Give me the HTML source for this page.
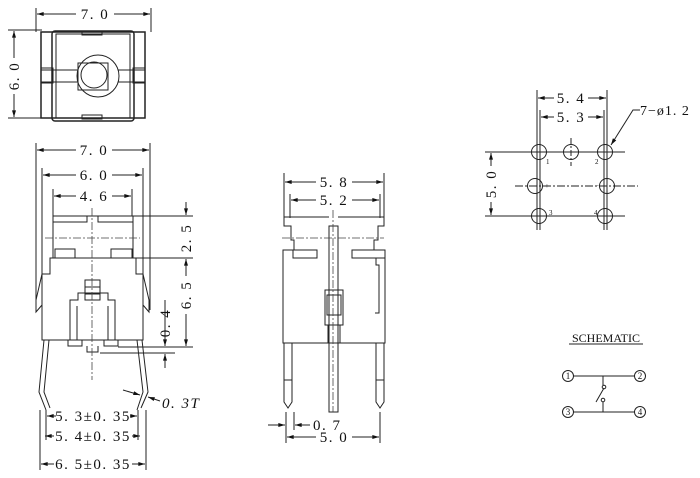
<!DOCTYPE html>
<html><head><meta charset="utf-8"><style>
html,body{margin:0;padding:0;background:#fff;width:700px;height:478px;overflow:hidden}
svg{display:block}
text{font-family:"Liberation Serif",serif;font-size:15px;fill:#111;letter-spacing:1.5px}
.pn text{font-size:7px;letter-spacing:0}
.sc text{font-size:9px;letter-spacing:0}
text.sh{font-size:12px;letter-spacing:0}
</style></head><body>
<svg width="700" height="478" viewBox="0 0 700 478" xmlns="http://www.w3.org/2000/svg">
<defs>
<marker id="a" viewBox="0 0 10 6" refX="10" refY="3" markerWidth="8" markerHeight="4" orient="auto-start-reverse"><path d="M0,0L10,3L0,6z" fill="#111"/></marker>
</defs>
<g stroke="#222" stroke-width="1" fill="none">
<!-- TOP VIEW -->
<line x1="36" y1="8" x2="36" y2="32"/><line x1="151" y1="8" x2="151" y2="32"/>
<line x1="37" y1="14" x2="76" y2="14" marker-start="url(#a)"/><line x1="114" y1="14" x2="150" y2="14" marker-end="url(#a)"/>
<line x1="8" y1="30" x2="42" y2="30"/><line x1="8" y1="118" x2="42" y2="118"/>
<line x1="14" y1="31" x2="14" y2="58" marker-start="url(#a)"/><line x1="14" y1="94" x2="14" y2="117" marker-end="url(#a)"/>
<rect x="41" y="32" width="104" height="86" stroke-width="1.5"/>
<rect x="52" y="31" width="82" height="90" rx="3" stroke-width="1.5"/>
<rect x="56" y="34" width="74" height="84"/>
<rect x="82" y="31" width="20" height="4"/><rect x="82" y="115" width="20" height="4"/>
<line x1="41" y1="70" x2="145" y2="70"/><line x1="41" y1="82" x2="145" y2="82"/>
<rect x="41" y="68" width="12" height="15"/><rect x="133" y="68" width="12" height="15"/>
<circle cx="98" cy="76" r="21" fill="#fff"/>
<rect x="78" y="63" width="30" height="27"/>
<circle cx="94" cy="75" r="13"/>
<!-- FRONT VIEW -->
<line x1="36" y1="143" x2="36" y2="310"/><line x1="150" y1="143" x2="150" y2="310"/>
<line x1="37" y1="150" x2="76" y2="150" marker-start="url(#a)"/><line x1="112" y1="150" x2="149" y2="150" marker-end="url(#a)"/>
<line x1="42" y1="168" x2="42" y2="275"/><line x1="143" y1="168" x2="143" y2="275"/>
<line x1="43" y1="175" x2="76" y2="175" marker-start="url(#a)"/><line x1="112" y1="175" x2="142" y2="175" marker-end="url(#a)"/>
<line x1="53" y1="189" x2="53" y2="216"/><line x1="132" y1="189" x2="132" y2="216"/>
<line x1="54" y1="196" x2="76" y2="196" marker-start="url(#a)"/><line x1="112" y1="196" x2="131" y2="196" marker-end="url(#a)"/>
<rect x="53" y="216" width="80" height="42"/>
<path d="M53,222H87V216M98,216V222H133"/>
<rect x="55" y="249" width="20" height="9"/><rect x="111" y="249" width="21" height="9"/>
<path d="M50,258H136V274H143V340H42V274H50Z"/>
<path d="M42,274L36,300V312L42,305M143,274L149,300V312L143,305"/>
<rect x="85" y="280" width="15" height="20"/>
<line x1="85" y1="287" x2="100" y2="287"/><line x1="85" y1="294" x2="100" y2="294"/>
<path d="M70,340V300H78V293H108V300H115V340"/>
<path d="M77,340V306M108,340V306"/>
<rect x="68" y="340" width="14" height="6"/><rect x="104" y="340" width="14" height="6"/>
<path d="M87,346V352H98V346"/>
<path d="M44,340L39,392L46,410M49,340L44,392L50,408"/>
<path d="M137,340L143,392L137,410M142,340L148,392L141,408"/>
<line x1="133" y1="216" x2="193" y2="216"/><line x1="133" y1="258" x2="193" y2="258"/>
<line x1="186" y1="202" x2="186" y2="215" marker-end="url(#a)"/>
<line x1="186" y1="259" x2="186" y2="276" marker-start="url(#a)"/><line x1="186" y1="314" x2="186" y2="346" marker-end="url(#a)"/>
<line x1="118" y1="347" x2="193" y2="347"/><line x1="100" y1="353" x2="175" y2="353"/>
<line x1="165" y1="300" x2="165" y2="346" marker-end="url(#a)"/><line x1="165" y1="368" x2="165" y2="354" marker-end="url(#a)"/>
<line x1="123" y1="390" x2="140" y2="395" marker-end="url(#a)"/><line x1="160" y1="401" x2="148" y2="397" marker-end="url(#a)"/>
<line x1="46" y1="410" x2="46" y2="440"/><line x1="138" y1="410" x2="138" y2="440"/>
<line x1="40" y1="410" x2="40" y2="470"/><line x1="146" y1="410" x2="146" y2="470"/>
<line x1="47" y1="416" x2="56" y2="416" marker-start="url(#a)"/><line x1="130" y1="416" x2="137" y2="416" marker-end="url(#a)"/>
<line x1="45" y1="436" x2="54" y2="436" marker-start="url(#a)"/><line x1="132" y1="436" x2="140" y2="436" marker-end="url(#a)"/>
<line x1="41" y1="464" x2="54" y2="464" marker-start="url(#a)"/><line x1="132" y1="464" x2="145" y2="464" marker-end="url(#a)"/>
<!-- SIDE VIEW -->
<line x1="284" y1="173" x2="284" y2="218"/><line x1="384" y1="173" x2="384" y2="218"/>
<line x1="285" y1="182" x2="316" y2="182" marker-start="url(#a)"/><line x1="352" y1="182" x2="383" y2="182" marker-end="url(#a)"/>
<line x1="290" y1="194" x2="290" y2="218"/><line x1="380" y1="194" x2="380" y2="218"/>
<line x1="291" y1="200" x2="316" y2="200" marker-start="url(#a)"/><line x1="352" y1="200" x2="379" y2="200" marker-end="url(#a)"/>
<path d="M329,217H284V226H291V240H294V250H283V343H385V250H374V240H378V226H384V217H338"/>
<rect x="293" y="250" width="24" height="8"/><rect x="352" y="250" width="33" height="8"/>
<path d="M376,258V265H379V313H375"/>
<rect x="329" y="226" width="9" height="186"/>
<rect x="325" y="290" width="18" height="35"/><rect x="327" y="295" width="14" height="20"/>
<rect x="328" y="325" width="12" height="18"/>
<path d="M284,343V402L288,408L292,402V343M284,380H292"/>
<path d="M376,343V402L380,408L384,402V343M376,380H384"/>
<line x1="286" y1="412" x2="286" y2="443"/><line x1="294" y1="412" x2="294" y2="430"/><line x1="380" y1="412" x2="380" y2="443"/>
<line x1="268" y1="425" x2="285" y2="425" marker-end="url(#a)"/><line x1="310" y1="425" x2="295" y2="425" marker-end="url(#a)"/>
<line x1="287" y1="437" x2="316" y2="437" marker-start="url(#a)"/><line x1="352" y1="437" x2="379" y2="437" marker-end="url(#a)"/>
<!-- FOOTPRINT -->
<line x1="537" y1="90" x2="537" y2="230"/><line x1="607" y1="90" x2="607" y2="230"/>
<line x1="540" y1="110" x2="540" y2="230"/><line x1="604" y1="110" x2="604" y2="230"/>
<line x1="538" y1="98" x2="554" y2="98" marker-start="url(#a)"/><line x1="588" y1="98" x2="606" y2="98" marker-end="url(#a)"/>
<line x1="541" y1="117" x2="554" y2="117" marker-start="url(#a)"/><line x1="588" y1="117" x2="603" y2="117" marker-end="url(#a)"/>
<line x1="485" y1="152" x2="625" y2="152"/><line x1="485" y1="216" x2="625" y2="216"/>
<line x1="515" y1="186" x2="638" y2="186" stroke-dasharray="8,2,2,2"/>
<line x1="571" y1="138" x2="571" y2="166" stroke-dasharray="6,2,2,2"/>
<line x1="491" y1="153" x2="491" y2="166" marker-start="url(#a)"/><line x1="491" y1="202" x2="491" y2="215" marker-end="url(#a)"/>
<circle cx="539" cy="152" r="7.5"/><circle cx="571" cy="152" r="7.5"/><circle cx="605" cy="152" r="7.5"/>
<circle cx="535" cy="186" r="7.5"/><circle cx="607" cy="186" r="7.5"/>
<circle cx="539" cy="216" r="7.5"/><circle cx="605" cy="216" r="7.5"/>
<path d="M640,110H633L611,145" marker-end="url(#a)"/>
<!-- SCHEMATIC -->
<line x1="569" y1="344" x2="643" y2="344"/>
<circle cx="568" cy="376" r="5.5"/><circle cx="640" cy="376" r="5.5"/>
<circle cx="568" cy="412" r="5.5"/><circle cx="640" cy="412" r="5.5"/>
<line x1="573.5" y1="376" x2="634.5" y2="376"/><line x1="573.5" y1="412" x2="634.5" y2="412"/>
<line x1="603" y1="376" x2="603" y2="385"/><circle cx="604" cy="387" r="1.8"/>
<line x1="603" y1="412" x2="603" y2="402"/><circle cx="603" cy="400" r="1.8"/>
<line x1="604" y1="388" x2="596" y2="402"/>
</g>
<g stroke="#444" stroke-width="0.8" fill="none" stroke-dasharray="8,2,2,2">
<line x1="92" y1="208" x2="92" y2="380"/>
<line x1="45" y1="238" x2="140" y2="238"/>
<line x1="333" y1="210" x2="333" y2="412"/>
<line x1="282" y1="238" x2="384" y2="238"/>
</g>
<text x="95" y="19" text-anchor="middle">7. 0</text>
<text transform="translate(19,76) rotate(-90)" text-anchor="middle">6. 0</text>
<text x="94" y="155" text-anchor="middle">7. 0</text>
<text x="94" y="180" text-anchor="middle">6. 0</text>
<text x="94" y="201" text-anchor="middle">4. 6</text>
<text transform="translate(191,238) rotate(-90)" text-anchor="middle">2. 5</text>
<text transform="translate(191,295) rotate(-90)" text-anchor="middle">6. 5</text>
<text transform="translate(170,323) rotate(-90)" text-anchor="middle">0. 4</text>
<text x="162" y="408" style="font-style:italic">0. 3T</text>
<text x="93" y="421" text-anchor="middle">5. 3±0. 35</text>
<text x="93" y="441" text-anchor="middle">5. 4±0. 35</text>
<text x="93" y="469" text-anchor="middle">6. 5±0. 35</text>
<text x="334" y="187" text-anchor="middle">5. 8</text>
<text x="334" y="205" text-anchor="middle">5. 2</text>
<text x="313" y="430">0. 7</text>
<text x="334" y="442" text-anchor="middle">5. 0</text>
<text x="571" y="103" text-anchor="middle">5. 4</text>
<text x="571" y="122" text-anchor="middle">5. 3</text>
<text x="640" y="115" style="font-size:14px;letter-spacing:1px">7−ø1. 2</text>
<text transform="translate(496,184) rotate(-90)" text-anchor="middle">5. 0</text>
<g class="pn"><text x="546" y="164">1</text><text x="595" y="164">2</text><text x="545" y="188">+</text><text x="595" y="188">−</text><text x="549" y="215">3</text><text x="594" y="215">4</text></g>
<text class="sh" x="606" y="342" text-anchor="middle">SCHEMATIC</text>
<g class="sc" text-anchor="middle"><text x="568" y="379">1</text><text x="640" y="379">2</text><text x="568" y="415">3</text><text x="640" y="415">4</text></g>
</svg>
</body></html>
